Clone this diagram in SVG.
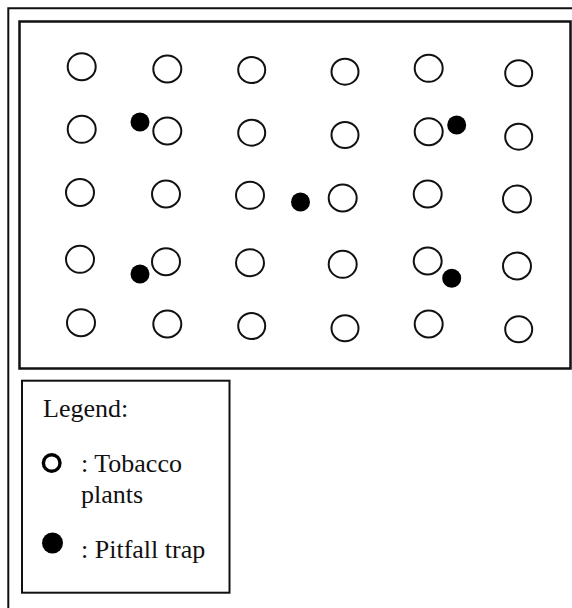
<svg xmlns="http://www.w3.org/2000/svg" width="572" height="608" viewBox="0 0 572 608">
<style>
.frame{fill:none;stroke:#111;}
.plant{fill:none;stroke:#111;stroke-width:2;}
.trap{fill:#000;}
.lbl{font-family:"Liberation Serif","Times New Roman",serif;font-size:26px;fill:#111;}
</style>
<rect width="572" height="608" fill="#fff"/>
<g id="outer-frame"><path class="frame" stroke-width="2" d="M8.3,608 V8.3 H572"/></g>
<g id="field"><rect class="frame" stroke-width="2.5" x="19.5" y="21.5" width="551" height="347"/></g>
<g id="plants">
<ellipse class="plant" cx="81.7" cy="66.7" rx="14" ry="13.5"/>
<ellipse class="plant" cx="167.3" cy="69" rx="14" ry="13.5"/>
<ellipse class="plant" cx="251.7" cy="70" rx="13.5" ry="13"/>
<ellipse class="plant" cx="345" cy="71.7" rx="13.5" ry="13"/>
<ellipse class="plant" cx="428.7" cy="68.3" rx="14" ry="13.5"/>
<ellipse class="plant" cx="518.7" cy="73.3" rx="13.5" ry="13"/>
<ellipse class="plant" cx="81.7" cy="129.3" rx="14" ry="13.5"/>
<ellipse class="plant" cx="167.3" cy="131" rx="14" ry="13.5"/>
<ellipse class="plant" cx="251.7" cy="132.7" rx="13.5" ry="13"/>
<ellipse class="plant" cx="345" cy="135" rx="13.5" ry="13"/>
<ellipse class="plant" cx="428.7" cy="131.7" rx="14" ry="13.5"/>
<ellipse class="plant" cx="518.7" cy="136.7" rx="13.5" ry="13"/>
<ellipse class="plant" cx="80" cy="192.5" rx="14" ry="13.5"/>
<ellipse class="plant" cx="166" cy="194" rx="14" ry="13.5"/>
<ellipse class="plant" cx="250" cy="195.3" rx="14" ry="13.5"/>
<ellipse class="plant" cx="342.7" cy="198" rx="14" ry="13.5"/>
<ellipse class="plant" cx="427.7" cy="194" rx="14" ry="13.5"/>
<ellipse class="plant" cx="517" cy="199" rx="14" ry="13.5"/>
<ellipse class="plant" cx="80" cy="259.3" rx="14" ry="13.5"/>
<ellipse class="plant" cx="166" cy="261.7" rx="14" ry="13.5"/>
<ellipse class="plant" cx="250" cy="262.7" rx="14" ry="13.5"/>
<ellipse class="plant" cx="342.7" cy="264.3" rx="14" ry="13.5"/>
<ellipse class="plant" cx="427.7" cy="261" rx="14" ry="13.5"/>
<ellipse class="plant" cx="517" cy="266" rx="14" ry="13.5"/>
<ellipse class="plant" cx="81" cy="322.7" rx="14" ry="13.5"/>
<ellipse class="plant" cx="167.3" cy="324" rx="14" ry="13.5"/>
<ellipse class="plant" cx="251.7" cy="326" rx="13.5" ry="13"/>
<ellipse class="plant" cx="345" cy="328.3" rx="13.5" ry="13"/>
<ellipse class="plant" cx="428.7" cy="324" rx="14" ry="13.5"/>
<ellipse class="plant" cx="518.7" cy="329.3" rx="13.5" ry="13"/>
</g>
<g id="traps">
<circle class="trap" cx="140" cy="122" r="9.5"/>
<circle class="trap" cx="456.7" cy="125" r="9.5"/>
<circle class="trap" cx="300.5" cy="202" r="9.5"/>
<circle class="trap" cx="140" cy="274" r="9.5"/>
<circle class="trap" cx="451.7" cy="278.3" r="9.5"/>
</g>
<g id="legend">
<rect class="frame" stroke-width="2" x="22" y="380.7" width="207.5" height="212"/>
<text class="lbl" x="43" y="416.7">Legend:</text>
<circle cx="51.7" cy="463" r="8.3" fill="none" stroke="#000" stroke-width="3.4"/>
<text class="lbl" x="81" y="471.7">: Tobacco</text>
<text class="lbl" x="81" y="502.7">plants</text>
<circle class="trap" cx="52.5" cy="543" r="10.5"/>
<text class="lbl" x="81" y="558.3">: Pitfall trap</text>
</g>
</svg>
